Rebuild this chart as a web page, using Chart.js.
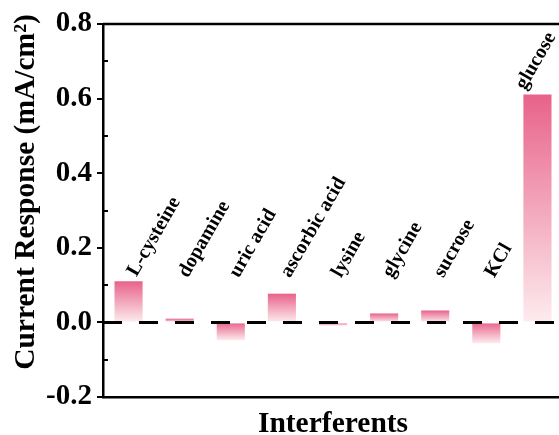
<!DOCTYPE html>
<html>
<head>
<meta charset="utf-8">
<script src="https://cdn.jsdelivr.net/npm/chart.js@4/dist/chart.umd.min.js"></script>
<style>
  html, body { margin: 0; padding: 0; background: #fff; overflow: hidden; }
  #wrap { width: 566px; height: 435px; }
</style>
</head>
<body>
<div id="wrap"><canvas id="chart" width="566" height="435"></canvas></div>
<script>
// interference test data
const interferents = ['L-cysteine', 'dopamine', 'uric acid', 'ascorbic acid', 'lysine', 'glycine', 'sucrose', 'KCl', 'glucose'];
const responses = [0.110, 0.010, -0.048, 0.077, -0.009, 0.024, 0.032, -0.056, 0.611];
const yTicks = [-0.2, 0.0, 0.2, 0.4, 0.6, 0.8];
const yTitle = 'Current Response (mA/cm²)';

const barTop = '#e8628a';
const barBottom = '#fdecef';
const serif = "'Liberation Serif', 'Times New Roman', serif";
const visibleWidth = 559;

function barGradient(ctx) {
  const chart = ctx.chart;
  const { chartArea, scales } = chart;
  if (!chartArea || ctx.type !== 'data') return barTop;
  const y0 = scales.y.getPixelForValue(0);
  const y1 = scales.y.getPixelForValue(ctx.raw);
  const top = Math.min(y0, y1);
  const bot = Math.max(y0, y1) + 0.01;
  const g = chart.ctx.createLinearGradient(0, top, 0, bot);
  g.addColorStop(0, barTop);
  g.addColorStop(1, barBottom);
  return g;
}

// frame, minor ticks, zero line, y title and rotated labels
const decorations = {
  id: 'decorations',
  afterDatasetsDraw(chart) {
    const { ctx, chartArea: a, scales } = chart;
    const y = scales.y;
    ctx.save();
    ctx.strokeStyle = '#000';

    // top and right frame
    ctx.lineWidth = 2.5;
    ctx.beginPath();
    ctx.moveTo(a.left, a.top);
    ctx.lineTo(a.right, a.top);
    ctx.lineTo(a.right, a.bottom);
    ctx.stroke();

    // minor ticks, inward
    ctx.lineWidth = 2;
    for (let i = 0; i < yTicks.length - 1; i++) {
      const py = Math.round(y.getPixelForValue((yTicks[i] + yTicks[i + 1]) / 2));
      ctx.beginPath();
      ctx.moveTo(a.left, py);
      ctx.lineTo(a.left + 5, py);
      ctx.stroke();
    }

    // dashed zero line
    const zy = y.getPixelForValue(0);
    ctx.lineWidth = 3;
    ctx.setLineDash([19, 17]);
    ctx.beginPath();
    ctx.moveTo(a.left, zy);
    ctx.lineTo(a.right, zy);
    ctx.stroke();
    ctx.setLineDash([]);

    ctx.fillStyle = '#000';

    // y axis title
    ctx.save();
    ctx.font = 'bold 29.5px ' + serif;
    ctx.textAlign = 'center';
    ctx.textBaseline = 'middle';
    ctx.translate(26, 192);
    ctx.rotate(-Math.PI / 2);
    ctx.fillText(yTitle, 0, 0);
    ctx.restore();

    // category labels
    const meta = chart.getDatasetMeta(0);
    const ang = 60 * Math.PI / 180;
    ctx.font = 'bold 20px ' + serif;
    ctx.textAlign = 'left';
    ctx.textBaseline = 'alphabetic';
    const floor = y.getPixelForValue(0.118);
    meta.data.forEach((bar, i) => {
      const w = ctx.measureText(interferents[i]).width;
      const lx = Math.min(bar.x + 8, visibleWidth - 3 - w * Math.cos(ang));
      const ly = Math.min(y.getPixelForValue(responses[i]) - 4, floor);
      ctx.save();
      ctx.translate(lx, ly);
      ctx.rotate(-ang);
      ctx.fillText(interferents[i], 0, 0);
      ctx.restore();
    });
    ctx.restore();
  }
};

new Chart(document.getElementById('chart'), {
  type: 'bar',
  data: {
    labels: interferents,
    datasets: [{
      data: responses,
      backgroundColor: barGradient,
      borderWidth: 0,
      barPercentage: 0.55,
      categoryPercentage: 1
    }]
  },
  options: {
    responsive: false,
    animation: false,
    devicePixelRatio: 1,
    layout: { padding: { left: 0, top: 24, right: 3, bottom: 0 } },
    plugins: {
      legend: { display: false },
      tooltip: { enabled: false }
    },
    scales: {
      x: {
        afterFit: s => { s.height = 38; },
        ticks: { display: false },
        grid: { display: false },
        border: { display: true, color: '#000', width: 2.5 },
        title: {
          display: true,
          text: 'Interferents',
          color: '#000',
          font: { family: serif, size: 29.5, weight: 'bold' },
          padding: { top: 0, bottom: -7 }
        }
      },
      y: {
        min: -0.2,
        max: 0.8,
        afterFit: s => { s.width = 103; },
        afterBuildTicks: s => { s.ticks = yTicks.map(v => ({ value: v })); },
        ticks: {
          color: '#000',
          padding: 5,
          font: { family: serif, size: 29, weight: 'bold' },
          callback: v => v.toFixed(1)
        },
        grid: {
          drawOnChartArea: false,
          drawTicks: true,
          tickLength: 6,
          color: '#000',
          lineWidth: 2
        },
        border: { display: true, color: '#000', width: 2.5 }
      }
    }
  },
  plugins: [decorations]
});
</script>
</body>
</html>
